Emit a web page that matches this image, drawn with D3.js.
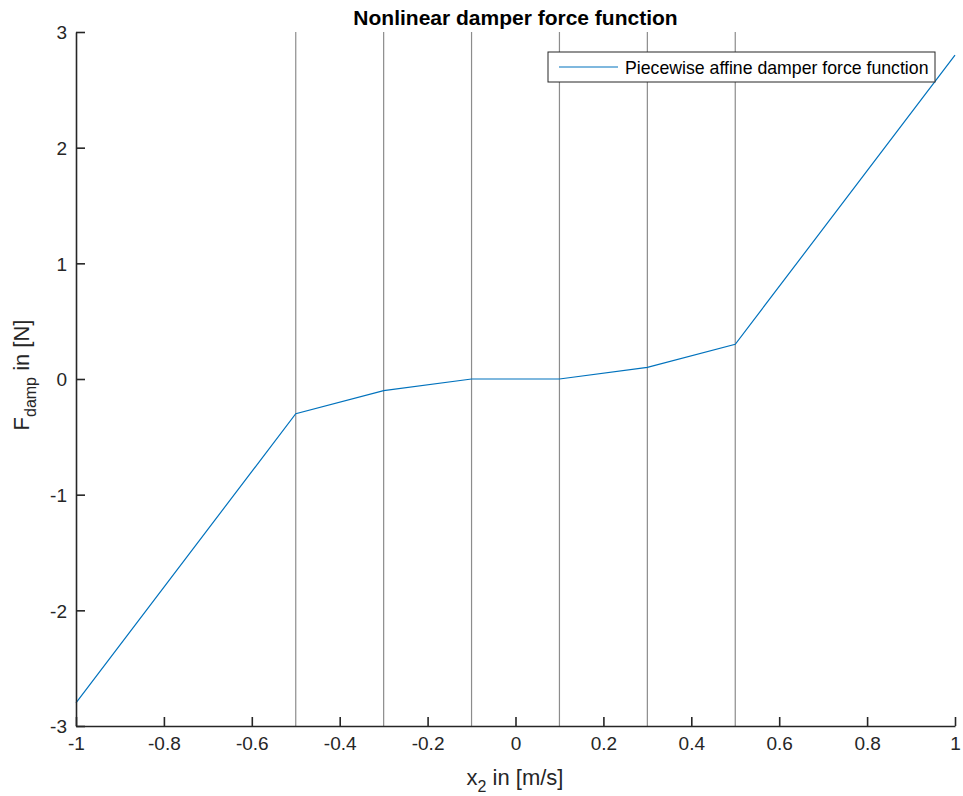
<!DOCTYPE html>
<html>
<head>
<meta charset="utf-8">
<script src="https://cdn.jsdelivr.net/npm/d3@7"></script>
<style>
  body { margin: 0; background: #fff; }
  svg { display: block; font-family: "Liberation Sans", Arial, Helvetica, sans-serif; }
</style>
</head>
<body>
<svg id="chart" width="963" height="796"></svg>
<script>
// Piecewise affine damper force: breakpoints of velocity x2 and force values
const velocity = [-1, -0.5, -0.3, -0.1, 0.1, 0.3, 0.5, 1];
const force = [-2.8, -0.3, -0.1, 0, 0, 0.1, 0.3, 2.8];
// Region boundaries drawn as vertical lines
const boundaries = [-0.5, -0.3, -0.1, 0.1, 0.3, 0.5];
const xTicks = [-1, -0.8, -0.6, -0.4, -0.2, 0, 0.2, 0.4, 0.6, 0.8, 1];
const yTicks = [-3, -2, -1, 0, 1, 2, 3];
const seriesName = "Piecewise affine damper force function";

const svg = d3.select("#chart");
const m = { left: 76, top: 32, right: 955, bottom: 726 };

const x = d3.scaleLinear().domain([-1, 1]).range([m.left, m.right]);
const y = d3.scaleLinear().domain([-3, 3]).range([m.bottom, m.top]);

const axisColor = "#262626";
const fmt = d => String(+d.toFixed(1)); // plain hyphen-minus labels

// Boundary lines
svg.append("g").selectAll("line").data(boundaries).join("line")
  .attr("x1", d => x(d)).attr("x2", d => x(d))
  .attr("y1", y(3)).attr("y2", y(-3))
  .attr("stroke", "#8c8c8c").attr("stroke-width", 1.2);

// Force curve
svg.append("path")
  .datum(velocity.map((v, i) => [v, force[i]]))
  .attr("fill", "none")
  .attr("stroke", "#0072BD")
  .attr("stroke-width", 1.2)
  .attr("d", d3.line().x(d => x(d[0])).y(d => y(d[1])));

// Axes with inward ticks
const xAxis = svg.append("g").attr("transform", `translate(0,${m.bottom})`)
  .call(d3.axisBottom(x).tickValues(xTicks).tickSizeInner(-9).tickSizeOuter(0).tickPadding(11)
    .tickFormat(fmt));
const yAxis = svg.append("g").attr("transform", `translate(${m.left},0)`)
  .call(d3.axisLeft(y).tickValues(yTicks).tickSizeInner(-9).tickSizeOuter(0).tickPadding(9)
    .tickFormat(fmt));

[xAxis, yAxis].forEach(g => {
  g.select(".domain").attr("stroke", axisColor).attr("stroke-width", 1.6);
  g.selectAll(".tick line").attr("stroke", axisColor).attr("stroke-width", 1.6);
  g.selectAll(".tick text").attr("fill", axisColor).attr("font-size", 19)
    .attr("font-family", "Liberation Sans, Arial, sans-serif");
});
yAxis.selectAll(".tick text").attr("dy", "0.36em");

// Title
svg.append("text")
  .attr("x", (m.left + m.right) / 2).attr("y", 25)
  .attr("text-anchor", "middle")
  .attr("font-size", 21).attr("font-weight", "bold").attr("fill", "#000")
  .text("Nonlinear damper force function");

// X label
const xl = svg.append("text")
  .attr("x", 515).attr("y", 785)
  .attr("text-anchor", "middle")
  .attr("font-size", 22).attr("fill", axisColor);
xl.append("tspan").text("x");
xl.append("tspan").attr("dy", 7).attr("font-size", 16).text("2");
xl.append("tspan").attr("dy", -7).text(" in [m/s]");

// Y label
const yl = svg.append("text")
  .attr("transform", `translate(29,375) rotate(-90)`)
  .attr("text-anchor", "middle")
  .attr("font-size", 22).attr("fill", axisColor);
yl.append("tspan").text("F");
yl.append("tspan").attr("dy", 7).attr("font-size", 16).text("damp");
yl.append("tspan").attr("dy", -7).text(" in [N]");

// Legend
const lg = svg.append("g");
lg.append("rect")
  .attr("x", 548).attr("y", 52).attr("width", 387).attr("height", 30)
  .attr("fill", "#fff").attr("stroke", axisColor).attr("stroke-width", 1);
lg.append("line")
  .attr("x1", 559).attr("x2", 618).attr("y1", 67).attr("y2", 67)
  .attr("stroke", "#0072BD").attr("stroke-width", 1.2);
lg.append("text")
  .attr("x", 625).attr("y", 73.5)
  .attr("font-size", 17.7).attr("fill", "#000")
  .text(seriesName);
</script>
</body>
</html>
